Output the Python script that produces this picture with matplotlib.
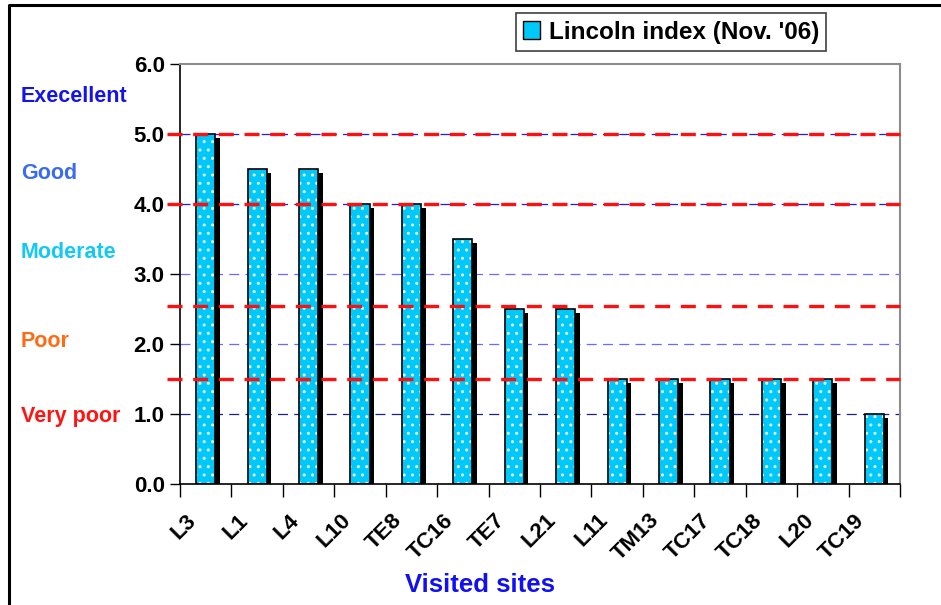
import matplotlib
matplotlib.use("Agg")
import matplotlib.pyplot as plt
from matplotlib.patches import Patch
from matplotlib.lines import Line2D
from matplotlib.transforms import ScaledTranslation, blended_transform_factory
import numpy as np

plt.rcParams['font.family'] = ['Liberation Sans', 'DejaVu Sans']
plt.rcParams['font.weight'] = 'bold'
plt.rcParams['hatch.linewidth'] = 1.0

# Lincoln index per visited site
sites = ['L3', 'L1', 'L4', 'L10', 'TE8', 'TC16', 'TE7', 'L21',
         'L11', 'TM13', 'TC17', 'TC18', 'L20', 'TC19']
lincoln = [5.0, 4.5, 4.5, 4.0, 4.0, 3.5, 2.5, 2.5,
           1.5, 1.5, 1.5, 1.5, 1.5, 1.0]

# quality class limits and names
thresholds = [5.0, 4.0, 2.55, 1.5]
classes = ['Execellent', 'Good', 'Moderate', 'Poor', 'Very poor']
class_y = [5.53, 4.44, 3.31, 2.04, 0.96]
class_colors = ['#1414E6', '#3A6BF0', '#14C8F5', '#FF6A14', '#FF1414']

fig = plt.figure(figsize=(9.41, 6.05), dpi=100)
ax = fig.add_axes([180 / 941, 121 / 605, 720 / 941, 420 / 605])

x = np.arange(len(sites))
w = 0.37
cyan = '#00C8F8'

# grid lines, one style per level
grid_colors = {1: '#202080', 2: '#6A6AFF', 3: '#6A6AFF', 4: '#1E1EF0', 5: '#1E1EF0'}
for lvl, c in grid_colors.items():
    ax.axhline(lvl, color=c, lw=0.9, ls=(0, (8, 5)), zorder=0.5)

# drop shadows
ax.bar(x + 0.09, np.array(lincoln) - 0.06, width=w, color='black', zorder=1)
# dotted fill, then outline
ax.bar(x, lincoln, width=w, color=cyan, edgecolor='#E8FAFF', hatch='..', lw=0, zorder=2)
ax.bar(x, lincoln, width=w, fill=False, edgecolor='black', lw=1.2, zorder=3)

# class limits
for t in thresholds:
    ax.plot([-0.76, 13.5], [t, t], color='#FF1010', lw=2.4, ls=(0, (4.5, 3.2)),
            clip_on=False, zorder=4)

ax.set_xlim(-0.5, len(sites) - 0.5)
ax.set_ylim(0, 6)
ax.set_yticks(np.arange(0, 7, 1))
ax.set_yticklabels([f'{v:.1f}' for v in np.arange(0, 7, 1)], fontsize=16, fontweight='bold')
ax.tick_params(axis='y', direction='out', length=7, width=1, pad=4)

ax.set_xticks(x)
ax.set_xticklabels(sites, fontsize=16, fontweight='bold', rotation=45,
                   ha='right', va='center', rotation_mode='anchor')
ax.set_xticks(np.arange(-0.5, len(sites), 1), minor=True)
ax.tick_params(axis='x', which='major', length=0, pad=24)
ax.tick_params(axis='x', which='minor', direction='out', length=9, width=1)
shift = ScaledTranslation(-9 / 72, 0, fig.dpi_scale_trans)
for lab in ax.get_xticklabels():
    lab.set_transform(lab.get_transform() + shift)

for side in ['top', 'right']:
    ax.spines[side].set_color('#8C8C8C')
    ax.spines[side].set_linewidth(1.5)
for side in ['left', 'bottom']:
    ax.spines[side].set_color('black')
    ax.spines[side].set_linewidth(1.2)

# class names on the left margin
tr = blended_transform_factory(fig.transFigure, ax.transData)
for name, yy, c in zip(classes, class_y, class_colors):
    fig.text(21 / 941, yy, name, transform=tr, color=c, fontsize=15.5,
             fontweight='bold', ha='left', va='center')

fig.text(480 / 941, 20 / 605, 'Visited sites', color='#1010F0', fontsize=18.5,
         fontweight='bold', ha='center', va='center')

handle = Patch(facecolor=cyan, edgecolor='black', lw=1)
leg = fig.legend([handle], ["Lincoln index (Nov. '06)"], loc='center',
                 bbox_to_anchor=(671 / 941, 1 - 32 / 605),
                 prop={'weight': 'bold', 'size': 17.5}, handlelength=0.7,
                 handleheight=0.7, handletextpad=0.35, borderpad=0.3,
                 fancybox=False, framealpha=1, edgecolor='#404040')
leg.get_frame().set_linewidth(1.2)

# partial outer frame
fig.add_artist(Line2D([9 / 941, 9 / 941, 1], [0, 1 - 5 / 605, 1 - 5 / 605],
                      transform=fig.transFigure, color='black', lw=2.2))

fig.savefig('out.png', dpi=100)
